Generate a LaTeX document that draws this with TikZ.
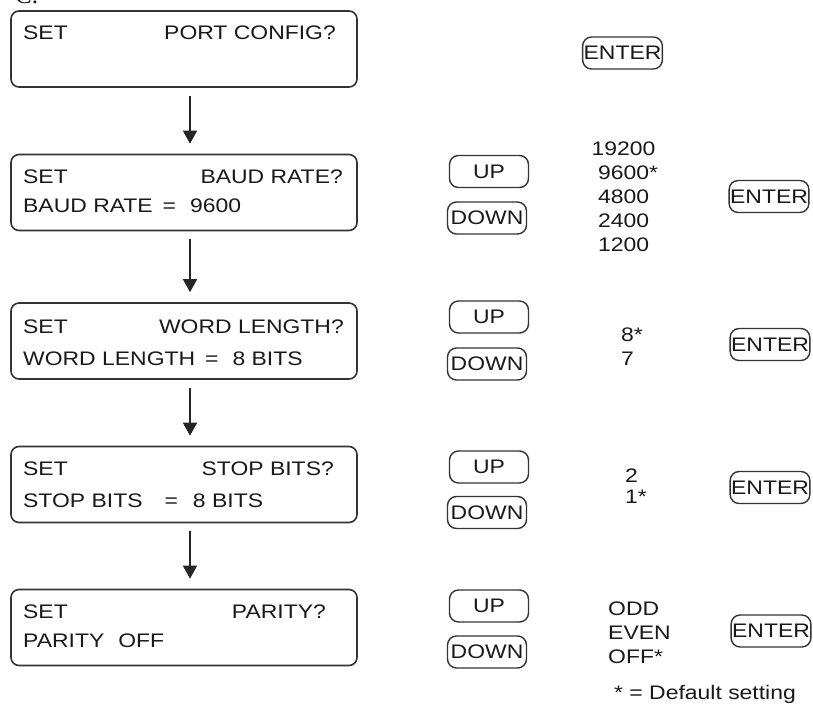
\documentclass[tikz,border=0pt]{standalone}
\usepackage{fontspec}
\setmainfont{Liberation Sans}[FakeStretch=1.17]
\newfontfamily\figletter{Liberation Serif}
\usetikzlibrary{
  arrows.meta
}

\begin{document}
\begin{tikzpicture}[x=1pt, y=-1pt, font=\fontsize{19.6}{24}\selectfont]
\useasboundingbox (0,0) rectangle (813,712);

% -------------------------
% Display panels
% -------------------------
\begin{scope}[
  every node/.style={draw=black!80, line width=1.6pt, rounded corners=8pt,
    minimum width=346pt, minimum height=76pt, inner sep=0pt}
]
\node (portbox)   at (184, 49)    {};
\node (baudbox)   at (184, 192.5) {};
\node (wordbox)   at (184, 341)   {};
\node (stopbox)   at (184, 484.5) {};
\node (paritybox) at (184, 627.5) {};
\end{scope}

% -------------------------
% Panel texts
% -------------------------
\begin{scope}[
  every node/.style={text=black!90, inner sep=0pt, anchor=base west}
]
\node[font=\figletter\fontsize{25}{25}\selectfont] (figid) at (15, 3) {C.};

\node (portset)  at (23, 39)  {SET};
\node[anchor=base east] (portq) at (336, 39) {PORT CONFIG?};

\node (baudset)  at (23, 183) {SET};
\node[anchor=base east] (baudq) at (343, 183) {BAUD RATE?};
\node (baudval)  at (23, 212) {BAUD RATE\hspace{10pt}=\hspace{14pt}9600};

\node (wordset)  at (23, 333) {SET};
\node[anchor=base east] (wordq) at (344, 333) {WORD LENGTH?};
\node (wordval)  at (23, 365) {WORD LENGTH\hspace{10pt}=\hspace{14pt}8 BITS};

\node (stopset)  at (23, 475) {SET};
\node[anchor=base east] (stopq) at (334, 475) {STOP BITS?};
\node (stopval)  at (23, 507) {STOP BITS\hspace{22pt}=\hspace{15pt}8 BITS};

\node (parityset) at (23, 618) {SET};
\node[anchor=base east] (parityq) at (326, 618) {PARITY?};
\node (parityval) at (23, 647) {PARITY\hspace{14pt}OFF};
\end{scope}

% -------------------------
% Keys
% -------------------------
\begin{scope}[
  every node/.style={draw=black!80, line width=1.4pt, rounded corners=9pt,
    minimum width=79pt, minimum height=32pt, inner xsep=1pt, inner ysep=0pt,
    text=black!90}
]
\node (enter1) at (622.5, 53)  {ENTER};

\node (up2)    at (489, 171.5) {UP};
\node (down2)  at (487, 218)   {DOWN};
\node (enter2) at (769, 196.5) {ENTER};

\node (up3)    at (489, 317)   {UP};
\node (down3)  at (487, 364)   {DOWN};
\node (enter3) at (770, 344.5) {ENTER};

\node (up4)    at (489, 467)   {UP};
\node (down4)  at (487, 512.5) {DOWN};
\node (enter4) at (770, 487.5) {ENTER};

\node (up5)    at (489, 606)   {UP};
\node (down5)  at (487, 652)   {DOWN};
\node (enter5) at (771, 631)   {ENTER};
\end{scope}

% -------------------------
% Choices (base = last line)
% -------------------------
\begin{scope}[
  every node/.style={text=black!90, inner sep=0pt, anchor=base west, align=left}
]
\node[anchor=base, align=center] (baudlist) at (623.5, 251)
  {19200\\\phantom{*}9600*\\4800\\2400\\1200};
\node (wordlist)   at (621, 365) {8*\\7};
\node[font=\fontsize{19.6}{21}\selectfont] (stoplist) at (625, 503) {2\\1*};
\node (paritylist) at (608, 663) {ODD\\EVEN\\OFF*};
\node (defnote)    at (614, 699) {* = Default setting};
\end{scope}

% -------------------------
% Edges
% -------------------------
\begin{scope}[>={Triangle[width=14pt,length=13pt]}, line width=1.5pt,
  draw=black!85, shorten <=8pt, shorten >=10pt]
\path [->] ([xshift=6pt]portbox.south) edge ([xshift=6pt]baudbox.north);
\path [->] ([xshift=6pt]baudbox.south) edge ([xshift=6pt]wordbox.north);
\path [->] ([xshift=6pt]wordbox.south) edge ([xshift=6pt]stopbox.north);
\path [->] ([xshift=6pt]stopbox.south) edge ([xshift=6pt]paritybox.north);
\end{scope}

\end{tikzpicture}
\end{document}
